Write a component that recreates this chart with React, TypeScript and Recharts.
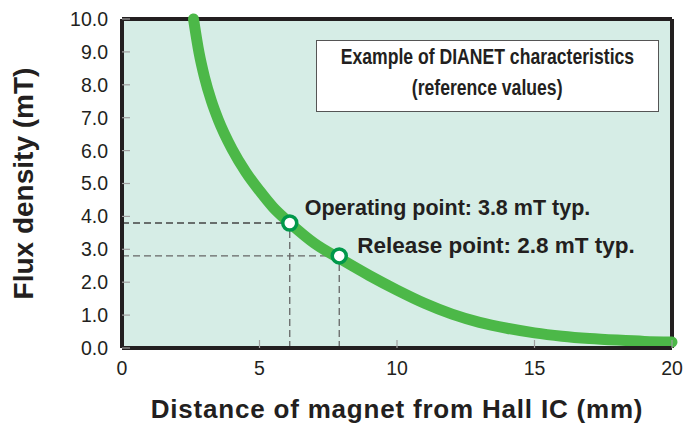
import React from 'react';
import {
  ComposedChart,
  Line,
  Scatter,
  XAxis,
  YAxis,
  CartesianGrid,
  ReferenceLine,
} from 'recharts';

// curve: distance (mm) -> flux density (mT)
const distance = [2.6, 2.8, 3.0, 3.25, 3.5, 4.0, 4.5, 5.0, 5.5, 6.1, 7.0, 8.0, 9.0, 10.0, 11.0, 12.0, 13.0, 14.0, 15.0, 16.0, 17.0, 18.0, 19.0, 20.0];
const flux = [10.0, 8.98, 8.23, 7.51, 6.94, 6.05, 5.35, 4.78, 4.27, 3.8, 3.18, 2.68, 2.2, 1.76, 1.36, 1.03, 0.78, 0.6, 0.46, 0.36, 0.29, 0.24, 0.2, 0.18];

const pointNames = ['Operating point: 3.8 mT typ.', 'Release point: 2.8 mT typ.'];
const pointX = [6.1, 7.9];
const pointY = [3.8, 2.8];

const xTicks = [0, 5, 10, 15, 20];
const yTicks = [0, 1, 2, 3, 4, 5, 6, 7, 8, 9, 10];

const boxLines = ['Example of DIANET characteristics', '(reference values)'];

const curve = distance.map((x, i) => ({ x, b: flux[i] }));
const points = pointX.map((x, i) => ({ x, b: pointY[i], name: pointNames[i] }));

const FONT = '"Liberation Sans", Arial, Helvetica, sans-serif';
const INK = '#231f20';
const BG = '#d6ede6';
const GREEN = '#4cb848';
const DARK_GREEN = '#00984a';

const labelStyle = [
  { dx: 15, dy: -8, size: 21.5 },
  { dx: 18, dy: -3, size: 22.5 },
];

const PointShape = (props: any) => {
  const { cx, cy, index } = props;
  const s = labelStyle[index] || { dx: 15, dy: -5, size: 21.5 };
  return (
    <g>
      <circle cx={cx} cy={cy} r={7} fill='#ffffff' stroke={DARK_GREEN} strokeWidth={3.5} />
      <text x={cx + s.dx} y={cy + s.dy} fontFamily={FONT} fontWeight='bold' fontSize={s.size} fill={INK}>
        {pointNames[index]}
      </text>
    </g>
  );
};

const XTitle = (props: any) => {
  const { viewBox } = props;
  return (
    <text
      x={viewBox.x + viewBox.width / 2}
      y={viewBox.y + 70}
      textAnchor='middle'
      fontFamily={FONT}
      fontWeight='bold'
      fontSize={26}
      letterSpacing={0.8}
      fill={INK}
    >
      Distance of magnet from Hall IC (mm)
    </text>
  );
};

const YTitle = (props: any) => {
  const { viewBox } = props;
  const cx = viewBox.x + 33;
  const cy = viewBox.y + viewBox.height / 2;
  return (
    <text
      x={cx}
      y={cy}
      transform={`rotate(-90 ${cx} ${cy})`}
      textAnchor='middle'
      fontFamily={FONT}
      fontWeight='bold'
      fontSize={28}
      fill={INK}
    >
      Flux density (mT)
    </text>
  );
};

const dash = { strokeDasharray: '7 4', strokeWidth: 1.3 };

export default function App() {
  return (
    <div style={{ position: 'absolute', left: 0, top: 0, width: 686, height: 423, background: '#fff' }}>
      <ComposedChart width={686} height={423} margin={{ top: 19, right: 14, bottom: 0, left: 0 }}>
        <CartesianGrid fill={BG} horizontal={false} vertical={false} />
        <XAxis
          type='number'
          dataKey='x'
          domain={[0, 20]}
          ticks={xTicks}
          height={75}
          tickSize={-8}
          tickMargin={21}
          tickLine={{ stroke: '#a0a0a0', strokeWidth: 1.2 }}
          axisLine={{ stroke: INK, strokeWidth: 4 }}
          tick={{ fill: INK, fontSize: 19.5, fontFamily: FONT }}
          label={{ content: XTitle }}
        />
        <YAxis
          type='number'
          dataKey='b'
          domain={[0, 10]}
          ticks={yTicks}
          width={122}
          tickSize={-8}
          tickMargin={22}
          tickFormatter={(v: number) => v.toFixed(1)}
          tickLine={{ stroke: '#a0a0a0', strokeWidth: 1.2 }}
          axisLine={{ stroke: INK, strokeWidth: 4 }}
          tick={{ fill: INK, fontSize: 19.5, fontFamily: FONT }}
          label={{ content: YTitle }}
        />
        <ReferenceLine y={10} stroke={INK} strokeWidth={4} />
        <ReferenceLine x={20} stroke={INK} strokeWidth={4} />
        <ReferenceLine segment={[{ x: 0, y: pointY[0] }, { x: pointX[0], y: pointY[0] }]} stroke='#444' {...dash} />
        <ReferenceLine segment={[{ x: pointX[0], y: 0 }, { x: pointX[0], y: pointY[0] }]} stroke='#666' {...dash} />
        <ReferenceLine segment={[{ x: 0, y: pointY[1] }, { x: pointX[1], y: pointY[1] }]} stroke='#666' {...dash} />
        <ReferenceLine segment={[{ x: pointX[1], y: 0 }, { x: pointX[1], y: pointY[1] }]} stroke='#666' {...dash} />
        <Line
          data={curve}
          dataKey='b'
          type='monotone'
          stroke={GREEN}
          strokeWidth={11}
          strokeLinecap='round'
          dot={false}
          activeDot={false}
          isAnimationActive={false}
        />
        <Scatter data={points} dataKey='b' shape={PointShape} isAnimationActive={false} />
      </ComposedChart>
      <div
        style={{
          position: 'absolute',
          left: 316,
          top: 40,
          width: 343,
          height: 72,
          boxSizing: 'border-box',
          border: '1.5px solid #555',
          background: '#fff',
          fontFamily: FONT,
          fontWeight: 'bold',
          fontSize: 22,
          color: INK,
          lineHeight: '31px',
        }}
      >
        {boxLines.map((t) => (
          <div key={t} style={{ display: 'flex', justifyContent: 'center', height: 31 }}>
            <span style={{ whiteSpace: 'nowrap', flexShrink: 0, transform: 'scaleX(0.8)' }}>{t}</span>
          </div>
        ))}
      </div>
    </div>
  );
}
